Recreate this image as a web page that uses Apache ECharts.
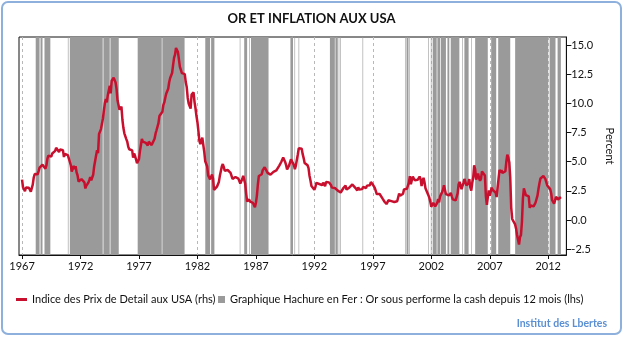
<!DOCTYPE html>
<html><head><meta charset="utf-8">
<script src="https://cdn.jsdelivr.net/npm/echarts@6/dist/echarts.min.js"></script>
<style>
html,body{margin:0;padding:0;background:#fff;}
#frame{position:absolute;left:1px;top:1px;width:621px;height:334px;box-sizing:border-box;border:2px solid #8db0dc;border-radius:7px;}
#c{position:absolute;left:0;top:0;width:623px;height:337px;}
</style></head><body>
<div id="frame"></div><div id="c"></div>
<script>
// ---- data ----
const startYear = 1967; // first monthly observation: Jan 1967
const cpi = [
 3.46,2.81,2.81,2.47,2.79,2.79,2.78,2.77,2.77,2.44,2.74,3.04,
 3.65,3.95,3.94,3.93,3.92,4.20,4.49,4.46,4.45,4.75,4.73,4.72,
 4.40,4.68,5.25,5.52,5.51,5.48,5.44,5.71,5.70,5.68,5.93,6.20,
 6.18,6.15,5.82,6.06,6.04,6.01,5.98,5.41,5.66,5.63,5.60,5.57,
 5.29,5.00,4.71,4.16,4.40,4.64,4.36,4.62,4.08,3.82,3.30,3.27,
 3.27,3.51,3.50,3.49,3.23,2.71,2.95,2.94,3.19,3.42,3.67,3.41,
 3.65,3.88,4.59,5.06,5.53,5.99,5.73,7.38,7.36,7.80,8.25,8.71,
 9.39,10.02,10.39,10.09,10.71,10.86,11.51,10.86,11.95,12.06,12.20,12.34,
 11.80,11.23,10.25,10.21,9.47,9.39,9.72,8.60,7.91,7.44,7.38,6.94,
 6.72,6.29,6.07,6.05,6.20,5.97,5.35,5.71,5.49,5.46,4.88,4.86,
 5.22,5.91,6.44,6.95,6.73,6.87,6.83,6.62,6.60,6.39,6.72,6.70,
 6.84,6.43,6.55,6.50,6.97,7.41,7.70,7.84,8.31,8.93,8.89,9.02,
 9.28,9.86,10.09,10.49,10.85,10.89,11.26,11.82,12.18,12.07,12.61,13.29,
 13.91,14.18,14.76,14.73,14.41,14.38,13.13,12.87,12.60,12.77,12.65,12.52,
 11.83,11.41,10.49,10.00,9.78,9.55,10.76,10.80,10.95,10.14,9.59,8.92,
 8.39,7.62,6.78,6.51,6.68,7.06,6.44,5.85,5.04,5.14,4.59,3.83,
 3.71,3.49,3.60,3.90,3.55,2.58,2.46,2.56,2.86,2.85,3.27,3.79,
 4.19,4.60,4.80,4.56,4.23,4.22,4.20,4.29,4.27,4.26,4.05,3.95,
 3.53,3.52,3.70,3.69,3.77,3.76,3.55,3.35,3.14,3.23,3.51,3.80,
 3.89,3.11,2.26,1.59,1.49,1.77,1.58,1.57,1.75,1.47,1.28,1.10,
 1.46,2.10,3.03,3.78,3.86,3.65,3.93,4.28,4.36,4.53,4.53,4.43,
 4.05,3.94,3.93,3.90,3.89,3.96,4.13,4.02,4.17,4.25,4.25,4.42,
 4.67,4.83,4.98,5.11,5.36,5.17,4.98,4.71,4.34,4.49,4.66,4.65,
 5.20,5.26,5.23,4.71,4.36,4.67,4.82,5.62,6.16,6.29,6.27,6.11,
 5.65,5.31,4.90,4.89,4.95,4.70,4.45,3.80,3.39,2.92,2.99,3.06,
 2.60,2.82,3.19,3.18,3.02,3.09,3.16,3.15,2.99,3.20,3.05,2.90,
 3.26,3.25,3.09,3.23,3.22,3.00,2.78,2.77,2.69,2.75,2.68,2.75,
 2.52,2.52,2.51,2.36,2.29,2.49,2.77,2.90,2.96,2.61,2.67,2.67,
 2.80,2.86,2.85,3.05,3.19,3.04,2.76,2.62,2.54,2.81,2.61,2.54,
 2.73,2.65,2.84,2.90,2.89,2.75,2.95,2.88,3.00,2.99,3.26,3.32,
 3.04,3.03,2.76,2.50,2.23,2.30,2.23,2.23,2.15,2.08,1.83,1.70,
 1.57,1.44,1.37,1.44,1.69,1.68,1.68,1.62,1.49,1.49,1.55,1.61,
 1.67,1.61,1.73,2.28,2.09,1.96,2.14,2.26,2.63,2.56,2.62,2.68,
 2.74,3.22,3.76,3.07,3.19,3.73,3.66,3.41,3.45,3.45,3.45,3.39,
 3.73,3.53,2.92,3.27,3.62,3.25,2.72,2.72,2.65,2.13,1.90,1.55,
 1.14,1.14,1.48,1.64,1.18,1.07,1.46,1.80,1.51,2.03,2.20,2.38,
 2.60,2.98,3.02,2.22,2.06,2.11,2.11,2.16,2.32,2.04,1.77,1.88,
 1.93,1.69,1.74,2.29,3.05,3.27,2.99,2.65,2.54,3.19,3.52,3.26,
 2.97,3.01,3.15,3.51,2.80,2.53,3.17,3.64,4.69,4.35,3.46,3.42,
 3.99,3.60,3.36,3.55,4.17,4.32,4.15,3.82,2.06,1.31,1.97,2.54,
 2.08,2.42,2.78,2.57,2.69,2.69,2.36,1.97,2.76,3.54,4.31,4.08,
 4.28,4.03,3.98,3.94,4.18,5.02,5.60,5.37,4.94,3.66,1.07,0.09,
 0.03,0.24,-0.38,-0.74,-1.28,-1.43,-2.10,-1.48,-1.29,-0.18,1.84,2.72,
 2.63,2.14,2.31,2.24,2.02,1.05,1.24,1.15,1.14,1.17,1.14,1.50,
 1.63,2.11,2.68,3.16,3.57,3.56,3.63,3.77,3.87,3.53,3.39,2.96,
 2.93,2.87,2.65,2.30,1.70,1.66,1.41,1.69,1.99,2.16,1.76,1.74,
 1.59,1.98
];
// periods where gold underperformed cash over 12 months (decimal years)
const bandStart = [1968.17,1968.58,1968.92,1970.92,1971.09,1973.96,1974.56,1976.89,1979.0,
 1982.67,1983.17,1985.62,1986.0,1986.42,1986.58,1989.95,1990.3,1990.65,
 1993.33,1993.8,1994.08,1994.2,1996.12,1999.75,1999.88,2000.12,2001.75,2001.96,
 2002.12,2002.52,2002.81,2003.38,2003.66,2004.63,2004.83,2005.42,2005.75,2007.12,2007.72,
 2009.17,2012.12,2012.8];
const bandEnd = [1968.5,1968.75,1969.42,1970.96,1973.9,1974.5,1975.27,1978.95,1980.9,
 1983.08,1983.45,1985.67,1986.25,1986.46,1988.08,1990.17,1990.35,1990.69,
 1993.75,1994.0,1994.12,1994.24,1996.17,1999.79,2000.05,2000.16,2001.79,2002.0,
 2002.46,2002.75,2003.25,2003.54,2004.4,2004.68,2005.19,2005.47,2006.83,2007.55,2008.75,
 2012.0,2012.62,2013.08];
const xTicks = [1967,1972,1977,1982,1987,1992,1997,2002,2007,2012];
const yTicks = [-2.5,0,2.5,5,7.5,10,12.5,15];
const seriesNames = ['Indice des Prix de Detail aux USA (rhs)',
  'Graphique Hachure en Fer : Or sous performe la cash depuis 12 mois (lhs)'];
const titleText = 'OR ET INFLATION AUX USA';
const sourceText = 'Institut des Lbertes';

// ---- chart ----
const X_MIN = 1966.74, X_MAX = 2013.55, Y_MIN = -3.0, Y_MAX = 15.7;
const FONT = 'Lato';
const chart = echarts.init(document.getElementById('c'), null, {renderer:'canvas'});
const lineData = cpi.map((v,i)=>[startYear + i/12, v]);
const bandData = bandStart.map((s,i)=>[s, bandEnd[i]]);

chart.setOption({
  animation:false,
  backgroundColor:'transparent',
  textStyle:{fontFamily:FONT},
  title:[
    {text:titleText, left:'center', top:7, textStyle:{fontFamily:FONT, fontSize:13, fontWeight:'bold', color:'#111'}},
    {text:sourceText, right:11, top:313, textStyle:{fontFamily:FONT, fontSize:10.5, fontWeight:'bold', color:'#5b8fd3'}}
  ],
  legend:[
    {data:[seriesNames[0]], left:11, top:289, icon:'rect', itemWidth:11, itemHeight:3, itemGap:4,
     textStyle:{fontFamily:FONT, fontSize:11, color:'#111'}},
    {data:[seriesNames[1]], left:213, top:289, icon:'rect', itemWidth:7, itemHeight:7,
     textStyle:{fontFamily:FONT, fontSize:11, color:'#111'}}
  ],
  grid:{left:19, right:55, top:37, bottom:82, show:true, borderColor:'#111', borderWidth:1, backgroundColor:'#fff'},
  xAxis:{type:'value', min:X_MIN, max:X_MAX,
    axisLine:{show:true, onZero:false, lineStyle:{color:'#111'}},
    axisTick:{show:true, customValues:xTicks, length:4, lineStyle:{color:'#111'}},
    axisLabel:{customValues:xTicks, formatter:v=>String(Math.round(v)), color:'#111', fontSize:11, margin:6},
    splitLine:{show:false}},
  yAxis:{type:'value', position:'right', min:Y_MIN, max:Y_MAX,
    axisLine:{show:true, lineStyle:{color:'#111'}},
    axisTick:{show:true, customValues:yTicks, length:5, lineStyle:{color:'#111'}},
    axisLabel:{customValues:yTicks, formatter:v=>v.toFixed(1), color:'#111', fontSize:11, margin:5},
    splitLine:{show:false},
    name:'Percent', nameLocation:'middle', nameRotate:-90, nameGap:27,
    nameTextStyle:{fontFamily:FONT, fontSize:11, color:'#111'}},
  series:[
    {type:'custom', name:'grid', silent:true, z:1, clip:true,
     data:xTicks.map(v=>[v]), encode:{x:0},
     renderItem:(params, api)=>{
       const a = api.coord([api.value(0), Y_MAX]);
       const b = api.coord([api.value(0), Y_MIN]);
       const x = Math.round(a[0]) + 0.5;
       return {type:'line', shape:{x1:x, y1:a[1], x2:x, y2:b[1]},
         style:{stroke:'#b8b8b8', lineWidth:1, lineDash:[3,3]}};
     }},
    {type:'custom', name:seriesNames[1], silent:true, z:2, clip:true,
     color:'#9a9a9a',
     data:bandData, encode:{x:[0,1]},
     renderItem:(params, api)=>{
       const a = api.coord([api.value(0), Y_MAX]);
       const b = api.coord([api.value(1), Y_MIN]);
       return {type:'rect', shape:{x:a[0], y:a[1], width:Math.max(b[0]-a[0],0.6), height:b[1]-a[1]},
         style:{fill:'#9a9a9a'}};
     }},
    {type:'line', name:seriesNames[0], data:lineData, showSymbol:false, z:3,
     color:'#c8102e', lineStyle:{color:'#c8102e', width:2.5}}
  ]
});
</script>
</body></html>
